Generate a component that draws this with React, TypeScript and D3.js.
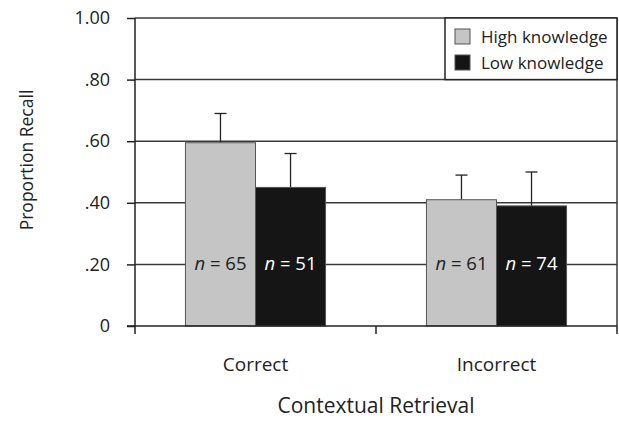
import React, { useRef, useEffect } from 'react'
import * as d3 from 'd3'

const categories = ['Correct', 'Incorrect']
const groups = ['High knowledge', 'Low knowledge']
const means = [
  [0.595, 0.45],
  [0.41, 0.39],
]
const errTop = [
  [0.69, 0.56],
  [0.49, 0.5],
]
const counts = [
  [65, 51],
  [61, 74],
]
const yTicks = [0, 0.2, 0.4, 0.6, 0.8, 1.0]
const yTickLabels = ['0', '.20', '.40', '.60', '.80', '1.00']
const colors = ['#c4c5c4', '#151515']

export default function App() {
  const svgRef = useRef<SVGSVGElement>(null)

  useEffect(() => {
    const svg = d3.select(svgRef.current)
    svg.selectAll('*').remove()
    const width = 619, height = 423
    const left = 135, right = 617, top = 18, bottom = 326
    const font = 'Open Sans, sans-serif'
    svg.attr('width', width).attr('height', height)
      .style('position', 'absolute').style('left', 0).style('top', 0)
      .style('background', '#fff')

    const x0 = d3.scaleBand().domain(categories).range([left, right]).paddingInner(0).paddingOuter(0)
    const x1 = d3.scaleBand().domain(groups).range([0, x0.bandwidth()]).paddingOuter(0.72).paddingInner(0)
    const y = d3.scaleLinear().domain([0, 1]).range([bottom, top])

    // gridlines
    svg.append('g').selectAll('line').data(yTicks.slice(1)).join('line')
      .attr('x1', left).attr('x2', right)
      .attr('y1', d => y(d)).attr('y2', d => y(d))
      .attr('stroke', '#3a3a3a').attr('stroke-width', 1.5)
    svg.append('line').attr('x1', right).attr('x2', right).attr('y1', top).attr('y2', bottom)
      .attr('stroke', '#3a3a3a').attr('stroke-width', 1.5)

    // bars
    const g = svg.append('g')
    categories.forEach((c, ci) => {
      groups.forEach((gr, gi) => {
        const bx = x0(c)! + x1(gr)!
        const bw = x1.bandwidth()
        const cx = bx + bw / 2
        g.append('line').attr('x1', cx).attr('x2', cx)
          .attr('y1', y(means[ci][gi])).attr('y2', y(errTop[ci][gi]))
          .attr('stroke', '#222').attr('stroke-width', 1.3)
        g.append('line').attr('x1', cx - 6).attr('x2', cx + 6)
          .attr('y1', y(errTop[ci][gi])).attr('y2', y(errTop[ci][gi]))
          .attr('stroke', '#222').attr('stroke-width', 1.3)
        g.append('rect').attr('x', bx).attr('y', y(means[ci][gi]))
          .attr('width', bw).attr('height', y(0) - y(means[ci][gi]))
          .attr('fill', colors[gi]).attr('stroke', '#555').attr('stroke-width', 1)
        const t = g.append('text').attr('x', cx).attr('y', y(0.2) + 6)
          .attr('text-anchor', 'middle').attr('font-family', font).attr('font-size', 18.5)
          .attr('fill', gi === 0 ? '#222' : '#fff')
        t.append('tspan').attr('font-style', 'italic').text('n')
        t.append('tspan').text(` = ${counts[ci][gi]}`)
      })
    })

    // y axis
    const ya = svg.append('g').attr('transform', `translate(${left},0)`)
      .call(d3.axisLeft(y).tickValues(yTicks).tickSize(8).tickPadding(17)
        .tickFormat((d, i) => yTickLabels[i]))
    ya.select('.domain').attr('stroke', '#222').attr('stroke-width', 1.5).attr('d', `M0,${top}V${bottom}`)
    ya.selectAll('.tick line').attr('stroke', '#222').attr('stroke-width', 1.5)
    ya.selectAll('text').attr('font-family', font).attr('font-size', 18).attr('fill', '#222')

    // x axis
    const xa = svg.append('g').attr('transform', `translate(0,${bottom})`)
    xa.append('line').attr('x1', left - 8).attr('x2', right).attr('y1', 0).attr('y2', 0)
      .attr('stroke', '#222').attr('stroke-width', 1.5)
    const edges = [left, ...categories.map(c => x0(c)! + x0.bandwidth())]
    xa.selectAll('.xt').data(edges).join('line')
      .attr('x1', d => d).attr('x2', d => d).attr('y1', 0).attr('y2', 8)
      .attr('stroke', '#222').attr('stroke-width', 1.5)
    xa.selectAll('.xl').data(categories).join('text')
      .attr('x', d => x0(d)! + x0.bandwidth() / 2).attr('y', 45)
      .attr('text-anchor', 'middle').attr('font-family', font).attr('font-size', 19)
      .attr('fill', '#222').text(d => d)

    // axis titles
    svg.append('text').attr('x', 376).attr('y', 413)
      .attr('text-anchor', 'middle').attr('font-family', font).attr('font-size', 21)
      .attr('fill', '#222').text('Contextual Retrieval')
    svg.append('text').attr('transform', `translate(33,160) rotate(-90)`)
      .attr('text-anchor', 'middle').attr('font-family', font).attr('font-size', 17.5)
      .attr('fill', '#222').text('Proportion Recall')

    // legend
    const lg = svg.append('g')
    lg.append('rect').attr('x', 445).attr('y', y(1)).attr('width', right - 445).attr('height', y(0.8) - y(1))
      .attr('fill', '#fff').attr('stroke', '#222').attr('stroke-width', 1.5)
    groups.forEach((gr, i) => {
      lg.append('rect').attr('x', 455).attr('y', 29 + i * 26).attr('width', 15).attr('height', 15)
        .attr('fill', colors[i]).attr('stroke', '#555').attr('stroke-width', 1)
      lg.append('text').attr('x', 481).attr('y', 43 + i * 26)
        .attr('font-family', font).attr('font-size', 17).attr('fill', '#222').text(gr)
    })
  }, [])

  return <svg ref={svgRef} />
}
